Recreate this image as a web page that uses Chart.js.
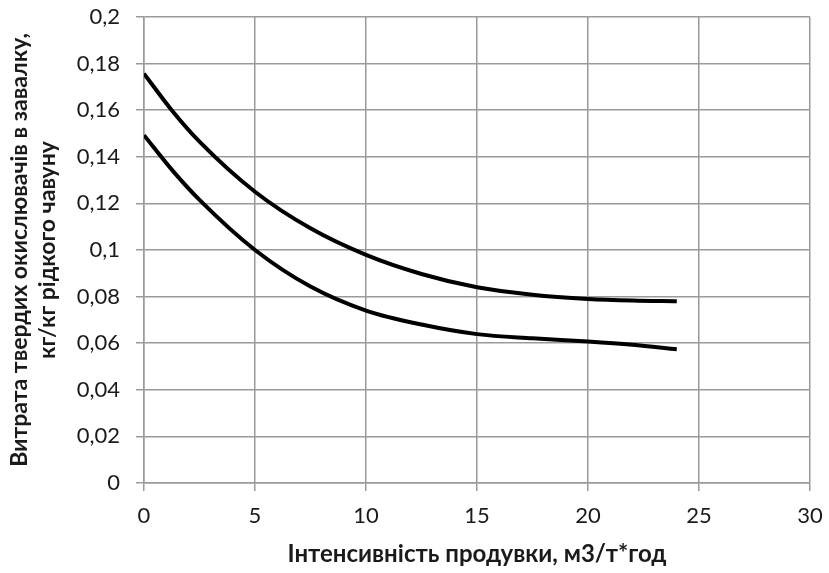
<!DOCTYPE html>
<html>
<head>
<meta charset="utf-8">
<script src="https://cdn.jsdelivr.net/npm/chart.js@4"></script>
<style>
  html, body { margin: 0; padding: 0; background: #fff; }
  #wrap { width: 829px; height: 573px; }
</style>
</head>
<body>
<div id="wrap"><canvas id="chart" width="829" height="573"></canvas></div>
<script>
// intensity values (x) and the two curves
const xVals     = [0, 1.25, 2.5, 5, 7.5, 10, 12.5, 15, 17.5, 20, 22, 24];
const upperVals = [0.1757, 0.160, 0.1465, 0.125, 0.1093, 0.0979, 0.0897, 0.0840, 0.0808, 0.0790, 0.0783, 0.0780];
const lowerVals = [0.1493, 0.1345, 0.1215, 0.100, 0.0843, 0.0740, 0.0680, 0.0639, 0.0621, 0.0607, 0.0593, 0.0574];
const xTicks = [0, 5, 10, 15, 20, 25, 30];
const yTicks = [0, 0.02, 0.04, 0.06, 0.08, 0.1, 0.12, 0.14, 0.16, 0.18, 0.2];

const yTitle = ['Витрата твердих окислювачів в завалку,', 'кг/кг рідкого чавуну'];
const xTitle = 'Інтенсивність продувки, м3/т*год';

const toPts = ys => xVals.map((x, i) => ({ x: x, y: ys[i] }));
const fmt = v => String(+v.toFixed(2)).replace('.', ',');

const lineStyle = {
    borderColor: '#000',
    borderWidth: 4,
    pointRadius: 0,
    fill: false,
    cubicInterpolationMode: 'monotone'
};

const ctx = document.getElementById('chart').getContext('2d');
new Chart(ctx, {
    type: 'line',
    data: {
        datasets: [
            Object.assign({ label: 'upper', data: toPts(upperVals) }, lineStyle),
            Object.assign({ label: 'lower', data: toPts(lowerVals) }, lineStyle)
        ]
    },
    options: {
        responsive: false,
        animation: false,
        layout: { padding: { top: 17, right: 19, left: 0, bottom: 0 } },
        plugins: { legend: { display: false }, tooltip: { enabled: false } },
        scales: {
            x: {
                type: 'linear',
                min: 0, max: 30,
                afterBuildTicks: s => { s.ticks = xTicks.map(v => ({ value: v })); },
                afterFit: s => { s.height = 90; s.paddingLeft = 0; s.paddingRight = 0; },
                grid: { color: '#9a9a9a', lineWidth: 1.5, tickLength: 8, drawTicks: true },
                border: { color: '#9a9a9a', width: 1.5 },
                ticks: { color: '#1a1a1a', font: { family: 'Lato', size: 22 }, padding: 12, maxRotation: 0 },
                title: { display: true, text: xTitle, color: '#1a1a1a',
                         font: { family: 'Lato', size: 24, weight: 'bold' }, padding: { top: 4 } }
            },
            y: {
                min: 0, max: 0.2,
                afterBuildTicks: s => { s.ticks = yTicks.map(v => ({ value: v })); },
                afterFit: s => { s.width = 144; s.paddingTop = 0; s.paddingBottom = 0; },
                grid: { color: '#9a9a9a', lineWidth: 1.5, tickLength: 8 },
                border: { color: '#9a9a9a', width: 1.5 },
                ticks: { color: '#1a1a1a', font: { family: 'Lato', size: 22 }, padding: 16, callback: v => fmt(v) },
                title: { display: true, text: yTitle, color: '#1a1a1a',
                         font: { family: 'Lato', size: 23, weight: 'bold', lineHeight: 1.2 }, padding: { top: 6, bottom: 0 } }
            }
        }
    }
});
</script>
</body>
</html>
